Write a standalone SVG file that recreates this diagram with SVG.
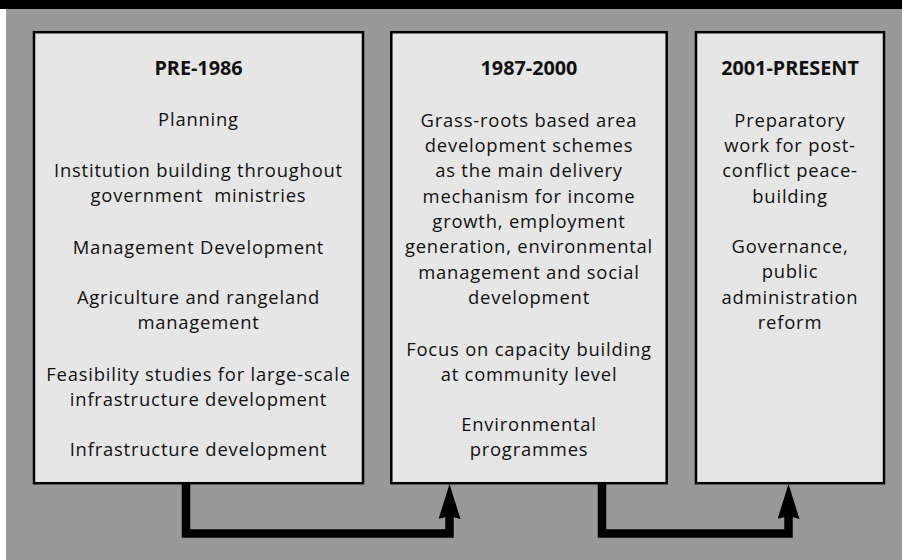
<svg xmlns="http://www.w3.org/2000/svg" width="902" height="560" viewBox="0 0 902 560">
  <style>
    .box { fill: #e6e6e6; stroke: #000; stroke-width: 2.5; }
    .t { font-family: "Open Sans", "Noto Sans", "DejaVu Sans", sans-serif; font-size: 18.4px; letter-spacing: 0.8px; fill: #111; text-anchor: middle; }
    .h { font-weight: bold; font-size: 19.8px; letter-spacing: 0; }
    .conn { fill: none; stroke: #000; stroke-width: 8.5; stroke-linejoin: miter; marker-end: url(#ah); }
  </style>
  <defs>
    <marker id="ah" markerUnits="userSpaceOnUse" markerWidth="36" markerHeight="22" viewBox="0 0 36 22" refX="3" refY="11" orient="auto">
      <path d="M0,0 L35,11 L0,22 L3,11 Z" fill="#000"/>
    </marker>
  </defs>
  <rect x="0" y="0" width="902" height="560" fill="#999999"/>
  <rect x="0" y="0" width="6" height="560" fill="#ffffff"/>
  <rect x="0" y="0" width="902" height="9" fill="#000000"/>

  <g id="node-pre1986">
    <rect class="box" x="34" y="32.2" width="329" height="451"/>
    <text class="t h" x="198.5" y="75">PRE-1986</text>
    <text class="t" x="198.5" y="126">Planning</text>
    <text class="t" x="198.5" y="177">Institution building throughout<tspan x="198.5" dy="25.4" xml:space="preserve">government  ministries</tspan></text>
    <text class="t" x="198.5" y="253.5">Management Development</text>
    <text class="t" x="198.5" y="304">Agriculture and rangeland<tspan x="198.5" dy="25.4">management</tspan></text>
    <text class="t" x="198.5" y="380.5">Feasibility studies for large-scale<tspan x="198.5" dy="25.4">infrastructure development</tspan></text>
    <text class="t" x="198.5" y="456">Infrastructure development</text>
  </g>

  <g id="node-1987-2000">
    <rect class="box" x="391.3" y="32.2" width="275.4" height="451"/>
    <text class="t h" x="529" y="75">1987-2000</text>
    <text class="t" x="529" y="126.5">Grass-roots based area<tspan x="529" dy="25.35">development schemes</tspan><tspan x="529" dy="25.35">as the main delivery</tspan><tspan x="529" dy="25.35">mechanism for income</tspan><tspan x="529" dy="25.35">growth, employment</tspan><tspan x="529" dy="25.35">generation, environmental</tspan><tspan x="529" dy="25.35">management and social</tspan><tspan x="529" dy="25.35">development</tspan></text>
    <text class="t" x="529" y="355.5">Focus on capacity building<tspan x="529" dy="25.35">at community level</tspan></text>
    <text class="t" x="529" y="431">Environmental<tspan x="529" dy="25.35">programmes</tspan></text>
  </g>

  <g id="node-2001-present">
    <rect class="box" x="696" y="32.2" width="188" height="451"/>
    <text class="t h" x="790" y="75">2001-PRESENT</text>
    <text class="t" x="790" y="126.5">Preparatory<tspan x="790" dy="25.35">work for post-</tspan><tspan x="790" dy="25.35">conflict peace-</tspan><tspan x="790" dy="25.35">building</tspan></text>
    <text class="t" x="790" y="253">Governance,<tspan x="790" dy="25.35">public</tspan><tspan x="790" dy="25.35">administration</tspan><tspan x="790" dy="25.35">reform</tspan></text>
  </g>

  <g id="connectors">
    <path class="conn" d="M186,484 V533.5 H449.5 V516"/>
    <path class="conn" d="M602,484 V533.5 H788.5 V516"/>
  </g>
</svg>
